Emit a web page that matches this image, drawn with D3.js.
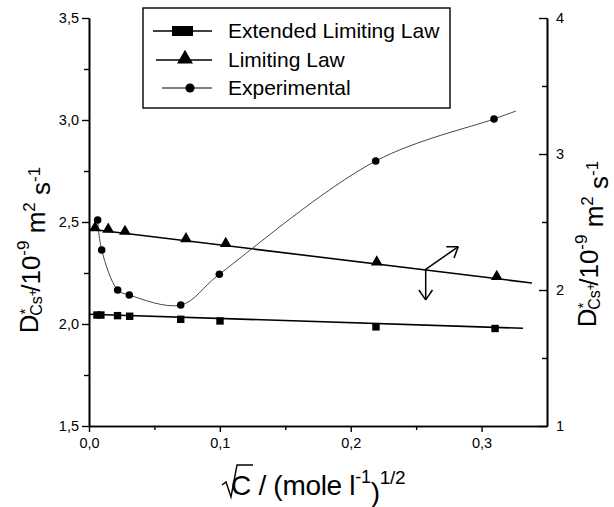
<!DOCTYPE html>
<html>
<head>
<meta charset="utf-8">
<script src="https://cdn.jsdelivr.net/npm/d3@7"></script>
<style>
  body { margin: 0; background: #fff; }
  svg { display: block; font-family: "Liberation Sans", Arial, sans-serif; }
</style>
</head>
<body>
<svg id="chart" width="614" height="507"></svg>
<script>
// sqrt(C) values and diffusion coefficients
const expX = [0.0066, 0.0097, 0.0219, 0.0308, 0.0701, 0.0996, 0.2191, 0.3095];
const expY = [2.51, 2.363, 2.167, 2.142, 2.093, 2.244, 2.799, 3.005];
const expCurveEnd = { x: 0.3263, y: 3.044 };

const limX = [0.0046, 0.0147, 0.0275, 0.0741, 0.1045, 0.2199, 0.3116];
const limY = [2.462, 2.454, 2.444, 2.408, 2.384, 2.294, 2.223];
const limLine = [{ x: 0, y: 2.466 }, { x: 0.3385, y: 2.201 }];

const extX = [0.0061, 0.0091, 0.0218, 0.0311, 0.0701, 0.1001, 0.2193, 0.3103];
const extY = [2.044, 2.044, 2.041, 2.038, 2.023, 2.015, 1.986, 1.978];
const extLine = [{ x: 0, y: 2.048 }, { x: 0.3317, y: 1.979 }];

const xTicks = [0, 0.1, 0.2, 0.3];
const xMinor = [0.05, 0.15, 0.25];
const yLeftTicks = [1.5, 2.0, 2.5, 3.0, 3.5];
const yLeftMinor = [1.75, 2.25, 2.75, 3.25];
const yRightTicks = [1, 2, 3, 4];
const yRightMinor = [1.5, 2.5, 3.5];

// arrow annotation near x = 0.26
const arrowFrom = { x: 0.2573, y: 2.268 };
const arrowTips = [{ x: 0.2822, y: 2.379 }, { x: 0.2573, y: 2.118 }];

const legendItems = ["Extended Limiting Law", "Limiting Law", "Experimental"];

const svg = d3.select("#chart");
const plotLeft = 89, plotRight = 547, plotTop = 18, plotBottom = 426;

const x = d3.scaleLinear().domain([0, 0.35]).range([plotLeft, plotRight]);
const yL = d3.scaleLinear().domain([1.5, 3.5]).range([plotBottom, plotTop]);
const yR = d3.scaleLinear().domain([1, 4]).range([plotBottom, plotTop]);

const comma = d => d3.format(".1f")(d).replace(".", ",");

function styleAxis(g) {
    g.selectAll("path.domain").attr("stroke", "#000").attr("stroke-width", 1.6);
    g.selectAll(".tick line").attr("stroke", "#000").attr("stroke-width", 1.4);
    g.selectAll(".tick text").attr("fill", "#000").style("font-size", "14.5px")
        .style("font-family", "'Liberation Sans', Arial, sans-serif");
}

// x axis
svg.append("g")
    .attr("transform", `translate(0,${plotBottom})`)
    .call(d3.axisBottom(x).tickValues(xTicks).tickFormat(comma).tickSize(6).tickSizeOuter(0).tickPadding(6))
    .call(styleAxis);
svg.append("g")
    .attr("transform", `translate(0,${plotBottom})`)
    .call(d3.axisBottom(x).tickValues(xMinor).tickFormat("").tickSize(4).tickSizeOuter(0))
    .call(styleAxis);

// left axis
svg.append("g")
    .attr("transform", `translate(${plotLeft},0)`)
    .call(d3.axisLeft(yL).tickValues(yLeftTicks).tickFormat(comma).tickSize(7).tickSizeOuter(0).tickPadding(3))
    .call(styleAxis);
svg.append("g")
    .attr("transform", `translate(${plotLeft},0)`)
    .call(d3.axisLeft(yL).tickValues(yLeftMinor).tickFormat("").tickSize(5).tickSizeOuter(0))
    .call(styleAxis);

// right axis, ticks pointing inward
svg.append("g")
    .attr("transform", `translate(${plotRight},0)`)
    .call(d3.axisRight(yR).tickValues(yRightTicks).tickFormat(d3.format("d")).tickSize(-8).tickSizeOuter(0).tickPadding(9))
    .call(styleAxis);
svg.append("g")
    .attr("transform", `translate(${plotRight},0)`)
    .call(d3.axisRight(yR).tickValues(yRightMinor).tickFormat("").tickSize(-5).tickSizeOuter(0))
    .call(styleAxis);

// lines
const line = d3.line().x(d => x(d.x)).y(d => yL(d.y));

svg.append("path")
    .datum(extLine)
    .attr("fill", "none").attr("stroke", "#000").attr("stroke-width", 1.6)
    .attr("d", line);

svg.append("path")
    .datum(limLine)
    .attr("fill", "none").attr("stroke", "#000").attr("stroke-width", 1.6)
    .attr("d", line);

const expPts = expX.map((v, i) => ({ x: v, y: expY[i] }));
svg.append("path")
    .datum(expPts.concat([expCurveEnd]))
    .attr("fill", "none").attr("stroke", "#333").attr("stroke-width", 0.9)
    .attr("d", line.curve(d3.curveCatmullRom.alpha(0.5)));

// markers
const sq = d3.symbol().type(d3.symbolSquare).size(55);
const tri = d3.symbol().type(d3.symbolTriangle).size(60);

svg.append("g").selectAll("path")
    .data(extX.map((v, i) => ({ x: v, y: extY[i] })))
    .join("path")
    .attr("d", sq)
    .attr("transform", d => `translate(${x(d.x)},${yL(d.y)})`)
    .attr("fill", "#000");

svg.append("g").selectAll("path")
    .data(limX.map((v, i) => ({ x: v, y: limY[i] })))
    .join("path")
    .attr("d", tri)
    .attr("transform", d => `translate(${x(d.x)},${yL(d.y) - 2})`)
    .attr("fill", "#000");

svg.append("g").selectAll("circle")
    .data(expPts)
    .join("circle")
    .attr("cx", d => x(d.x))
    .attr("cy", d => yL(d.y))
    .attr("r", 3.8)
    .attr("fill", "#000");

// arrows
const ax0 = x(arrowFrom.x), ay0 = yL(arrowFrom.y);
arrowTips.forEach(t => {
    const tx = x(t.x), ty = yL(t.y);
    const ang = Math.atan2(ty - ay0, tx - ax0);
    const g = svg.append("g").attr("stroke", "#000").attr("stroke-width", 1.5).attr("fill", "none");
    g.append("line").attr("x1", ax0).attr("y1", ay0).attr("x2", tx).attr("y2", ty);
    [-0.6, 0.6].forEach(da => {
        const a = ang + Math.PI + da;
        g.append("line").attr("x1", tx).attr("y1", ty)
            .attr("x2", tx + 12 * Math.cos(a)).attr("y2", ty + 12 * Math.sin(a));
    });
});

// legend
const lg = svg.append("g");
lg.append("rect")
    .attr("x", 143).attr("y", 8).attr("width", 307).attr("height", 100)
    .attr("fill", "#fff").attr("stroke", "#000").attr("stroke-width", 1.4);
const rowY = [31, 60, 88];
const lineStart = [153, 156, 162];
legendItems.forEach((name, i) => {
    lg.append("line")
        .attr("x1", lineStart[i]).attr("x2", 212)
        .attr("y1", rowY[i]).attr("y2", rowY[i])
        .attr("stroke", "#000").attr("stroke-width", i === 2 ? 1 : 1.6);
    lg.append("text")
        .attr("x", 228).attr("y", rowY[i]).attr("dy", "0.33em")
        .style("font-size", "21px")
        .text(name);
});
lg.append("rect").attr("x", 172).attr("y", rowY[0] - 5).attr("width", 21).attr("height", 10).attr("fill", "#000");
lg.append("path").attr("d", d3.symbol().type(d3.symbolTriangle).size(110))
    .attr("transform", `translate(185,${rowY[1] - 1})`).attr("fill", "#000");
lg.append("circle").attr("cx", 190).attr("cy", rowY[2]).attr("r", 4.6).attr("fill", "#000");

// axis titles
function yTitle(g) {
    g.style("font-size", "26px");
    g.append("tspan").text("D");
    g.append("tspan").attr("dy", "-0.55em").style("font-size", "15px").text("*");
    g.append("tspan").attr("dx", "-0.45em").attr("dy", "0.75em").style("font-size", "16px").text("Cs");
    g.append("tspan").attr("dy", "-0.4em").style("font-size", "12px").text("+");
    g.append("tspan").attr("dx", "-0.1em").attr("dy", "0.1em").text("/10");
    g.append("tspan").attr("dy", "-0.6em").style("font-size", "17px").text("-9");
    g.append("tspan").attr("dy", "0.6em").text(" m");
    g.append("tspan").attr("dy", "-0.6em").style("font-size", "17px").text("2");
    g.append("tspan").attr("dy", "0.6em").text(" s");
    g.append("tspan").attr("dy", "-0.6em").style("font-size", "17px").text("-1");
}

svg.append("text")
    .attr("transform", "translate(38,250) rotate(-90)")
    .attr("text-anchor", "middle")
    .call(yTitle);

svg.append("text")
    .attr("transform", "translate(596,244) rotate(-90)")
    .attr("text-anchor", "middle")
    .call(yTitle);

// x title
const xt = svg.append("text")
    .attr("x", 231).attr("y", 495)
    .style("font-size", "28px")
    .style("letter-spacing", "-0.3px");
xt.append("tspan").text("C / (mole l");
xt.append("tspan").attr("dy", "-0.65em").style("font-size", "18px").text("-1");
xt.append("tspan").attr("dy", "0.65em").text(")");
xt.append("tspan").attr("dy", "-0.9em").style("font-size", "19px").text("1/2");
// radical sign over C
svg.append("path")
    .attr("d", "M222,485 L226,482 L231,497 L237,465 L253,465")
    .attr("fill", "none").attr("stroke", "#000").attr("stroke-width", 1.4);
</script>
</body>
</html>
